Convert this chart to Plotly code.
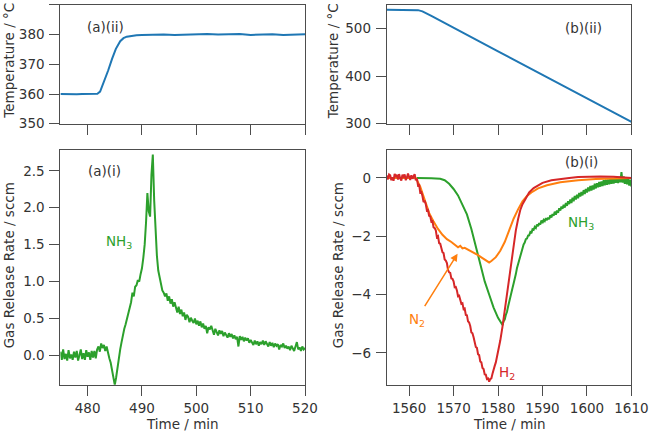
import numpy as np
import plotly.graph_objects as go

# ---------------- data ----------------
# (a)(ii) temperature
a_temp_t = [475, 476, 477, 478, 479, 480, 481, 481.8, 482.3, 483, 483.8, 484.5, 485.2, 486, 486.6,
            487.2, 488, 489, 490, 492, 494, 496, 498, 500, 502, 504, 506, 508, 510, 512, 514, 516, 518, 520]
a_temp_v = [360.0, 359.9, 359.8, 359.9, 360.0, 360.0, 360.0, 360.1, 360.8, 364.0, 368.0, 371.8, 375.2,
            377.8, 378.8, 379.3, 379.6, 379.8, 379.9, 380.0, 380.0, 379.9, 380.0, 380.0, 380.2, 380.0,
            380.1, 380.2, 379.9, 380.0, 380.1, 379.9, 380.0, 380.1]

# (a)(i) NH3 release rate, 475..520 min every 0.25 min
a_nh3_start, a_nh3_end = 475, 520
a_nh3_v = [
    0.05, -0.06, 0.08, -0.05, 0.02, -0.07, 0.07, -0.04,
    0.01, -0.06, 0.05, -0.03, 0.06, -0.07, 0.00, 0.08,
    -0.05, 0.03, -0.06, 0.07, -0.02, 0.04, -0.06, 0.06,
    -0.03, 0.06, -0.04, 0.08, 0.12, 0.05, 0.16, 0.10,
    0.14, 0.06, 0.12, 0.02, -0.04, -0.10, -0.20, -0.32,
    -0.40, -0.30, -0.15, -0.02, 0.08, 0.18, 0.28, 0.36,
    0.42, 0.50, 0.58, 0.66, 0.72, 0.85, 0.80, 0.93,
    0.95, 1.02, 1.00, 1.10, 1.18, 1.32, 1.50, 1.80,
    2.20, 1.95, 1.88, 2.45, 2.72, 2.10, 1.60, 1.35,
    1.15, 1.05, 0.95, 0.88, 0.85, 0.80, 0.84, 0.74,
    0.80, 0.70, 0.76, 0.66, 0.72, 0.64, 0.58, 0.66,
    0.56, 0.62, 0.53, 0.58, 0.48, 0.55, 0.52, 0.45,
    0.51, 0.47, 0.44, 0.50, 0.42, 0.47, 0.40, 0.46,
    0.38, 0.43, 0.36, 0.40, 0.30, 0.38, 0.35, 0.40,
    0.33, 0.28, 0.36, 0.31, 0.27, 0.34, 0.29, 0.33,
    0.26, 0.31, 0.27, 0.24, 0.30, 0.25, 0.29, 0.23,
    0.27, 0.22, 0.25, 0.12, 0.26, 0.21, 0.25, 0.19,
    0.24, 0.20, 0.23, 0.17, 0.21, 0.18, 0.14, 0.20,
    0.15, 0.19, 0.13, 0.18, 0.15, 0.20, 0.14, 0.19,
    0.16, 0.12, 0.18, 0.13, 0.17, 0.11, 0.16, 0.13,
    0.15, 0.08, 0.14, 0.12, 0.16, 0.10, 0.13, 0.09,
    0.12, 0.07, 0.13, 0.10, 0.06, 0.12, 0.18, 0.08,
    0.11, 0.06, 0.12, 0.08, 0.10,
]

# (b)(ii) temperature
b_temp_t = [1555, 1558, 1561, 1562, 1563, 1565, 1580, 1595, 1610]
b_temp_v = [540, 540, 540, 539, 536.5, 527, 452.4, 378.1, 304]

# (b)(i) H2: noisy part 1555..1579.75 every 0.25 min, then smooth points
b_h2_noisy_start, b_h2_noisy_end = 1555, 1579.75
b_h2_noisy_v = [
    0.08, -0.05, 0.12, 0.09, -0.08, 0.02, -0.10, 0.14,
    0.03, 0.11, -0.06, 0.13, -0.02, -0.09, 0.11, 0.05,
    0.12, -0.08, 0.01, 0.15, 0.04, -0.07, 0.09, -0.03,
    0.06, 0.13, -0.08, -0.02, -0.25, -0.22, -0.50, -0.48,
    -0.62, -0.83, -0.78, -0.90, -1.12, -1.10, -1.30, -1.32,
    -1.50, -1.48, -1.70, -1.72, -1.80, -2.03, -2.00, -2.24,
    -2.26, -2.45, -2.55, -2.58, -2.80, -2.84, -2.92, -3.16,
    -3.24, -3.26, -3.45, -3.46, -3.55, -3.75, -3.74, -3.86,
    -4.06, -4.04, -4.22, -4.32, -4.30, -4.50, -4.48, -4.70,
    -4.71, -4.92, -4.96, -5.08, -5.30, -5.33, -5.47, -5.68,
    -5.80, -5.83, -6.05, -6.08, -6.30, -6.33, -6.52, -6.56,
    -6.74, -6.75, -6.90, -6.88, -6.99, -6.90, -6.88, -6.72,
    -6.62, -6.45, -6.33, -6.15,
]
b_h2_smooth_t = [1580, 1580.5, 1581, 1581.5, 1582, 1582.5, 1583, 1583.5, 1584, 1584.5, 1585, 1585.5,
                 1586, 1587, 1588, 1589, 1590, 1592, 1594, 1596, 1598, 1600, 1603, 1606, 1608, 1610]
b_h2_smooth_v = [-6.0, -5.58, -5.1, -4.56, -4.0, -3.42, -2.85, -2.3, -1.8, -1.42, -1.1, -0.9,
                 -0.75, -0.5, -0.35, -0.25, -0.17, -0.08, -0.03, 0.0, 0.03, 0.04, 0.05, 0.04, 0.03, 0.0]

# (b)(i) N2
b_n2_t = [1555, 1561.5, 1562.5, 1563.5, 1564.5, 1565.5, 1566.5, 1567.5, 1568.5, 1569.5, 1570.5, 1571,
          1571.5, 1572, 1572.5, 1573.5, 1574.5, 1575.5, 1576.5, 1577.5, 1578, 1578.5, 1579.5, 1580.5,
          1581.5, 1582.5, 1583.5, 1584.5, 1585.5, 1586.5, 1587.5, 1589, 1591, 1594, 1598, 1602, 1606, 1610]
b_n2_v = [0, 0, -0.3, -0.75, -1.2, -1.5, -1.75, -1.95, -2.1, -2.2, -2.3, -2.38, -2.33, -2.42, -2.4,
          -2.48, -2.55, -2.65, -2.75, -2.85, -2.9, -2.85, -2.72, -2.5, -2.2, -1.8, -1.4, -1.08, -0.8,
          -0.62, -0.5, -0.36, -0.25, -0.15, -0.08, -0.04, -0.02, 0.0]

# (b)(i) NH3: smooth descent, then noisy recovery 1581..1610 every 0.25 min
b_nh3_smooth_t = [1561.75, 1563, 1565, 1567, 1568, 1569, 1570, 1571, 1572, 1573, 1574, 1575, 1576,
                  1577, 1578, 1579, 1580, 1580.5]
b_nh3_smooth_v = [0, 0, -0.01, -0.03, -0.08, -0.2, -0.38, -0.6, -0.9, -1.25, -1.75, -2.35, -3.0,
                  -3.55, -4.0, -4.45, -4.8, -4.95]
b_nh3_noisy_start, b_nh3_noisy_end = 1581, 1610
b_nh3_noisy_v = [
    -5.05, -4.92, -4.86, -4.70, -4.60, -4.42, -4.28, -4.10,
    -3.96, -3.78, -3.62, -3.48, -3.30, -3.10, -2.96, -2.78,
    -2.66, -2.50, -2.42, -2.28, -2.22, -2.10, -2.08, -1.98,
    -1.97, -1.86, -1.90, -1.76, -1.78, -1.68, -1.72, -1.60,
    -1.66, -1.55, -1.60, -1.46, -1.55, -1.44, -1.48, -1.38,
    -1.45, -1.36, -1.42, -1.28, -1.36, -1.24, -1.30, -1.16,
    -1.26, -1.12, -1.20, -1.04, -1.12, -0.98, -1.06, -0.92,
    -1.02, -0.86, -0.96, -0.80, -0.90, -0.74, -0.86, -0.68,
    -0.80, -0.62, -0.74, -0.58, -0.70, -0.52, -0.64, -0.48,
    -0.60, -0.42, -0.55, -0.38, -0.50, -0.33, -0.46, -0.28,
    -0.43, -0.26, -0.40, -0.20, -0.36, -0.18, -0.32, -0.14,
    -0.30, -0.12, -0.28, -0.08, -0.25, -0.06, -0.24, -0.05,
    -0.22, -0.02, -0.20, -0.05, -0.19, 0.00, -0.17, 0.03,
    -0.18, 0.04, -0.15, 0.20, -0.16, 0.05, -0.20, 0.01,
    -0.22, -0.03, -0.26, -0.06, -0.30,
]

# axis ticks
a_xticks = [480, 490, 500, 510, 520]
b_xticks = [1560, 1570, 1580, 1590, 1600, 1610]
a_temp_ticks = [350, 360, 370, 380, 390]
b_temp_ticks = [300, 400, 500]
a_rate_ticks = [0.0, 0.5, 1.0, 1.5, 2.0, 2.5]
b_rate_ticks = [-6, -4, -2, 0]

# ---------------- styling ----------------
BLUE, GREEN, ORANGE, RED = "#1f77b4", "#2ca02c", "#ff7f0e", "#d62728"
TXT = "#333333"
AX = "#4d4d4d"
FONT = "DejaVu Sans"
FS = 13.5
W, H = 666, 439

a_nh3_t = np.linspace(a_nh3_start, a_nh3_end, len(a_nh3_v))
b_h2_t = list(np.linspace(b_h2_noisy_start, b_h2_noisy_end, len(b_h2_noisy_v))) + b_h2_smooth_t
b_h2_v = b_h2_noisy_v + b_h2_smooth_v
b_nh3_t = b_nh3_smooth_t + list(np.linspace(b_nh3_noisy_start, b_nh3_noisy_end, len(b_nh3_noisy_v)))
b_nh3_v = b_nh3_smooth_v + b_nh3_noisy_v

fig = go.Figure()
lw = 2
fig.add_trace(go.Scatter(x=a_temp_t, y=a_temp_v, mode="lines", line=dict(color=BLUE, width=lw),
                         xaxis="x", yaxis="y", showlegend=False))
fig.add_trace(go.Scatter(x=b_temp_t, y=b_temp_v, mode="lines", line=dict(color=BLUE, width=lw),
                         xaxis="x2", yaxis="y2", showlegend=False))
fig.add_trace(go.Scatter(x=a_nh3_t, y=a_nh3_v, mode="lines", line=dict(color=GREEN, width=lw),
                         xaxis="x3", yaxis="y3", showlegend=False))
fig.add_trace(go.Scatter(x=b_nh3_t, y=b_nh3_v, mode="lines", line=dict(color=GREEN, width=lw),
                         xaxis="x4", yaxis="y4", showlegend=False))
fig.add_trace(go.Scatter(x=b_n2_t, y=b_n2_v, mode="lines", line=dict(color=ORANGE, width=lw),
                         xaxis="x4", yaxis="y4", showlegend=False))
fig.add_trace(go.Scatter(x=b_h2_t, y=b_h2_v, mode="lines", line=dict(color=RED, width=lw),
                         xaxis="x4", yaxis="y4", showlegend=False))

xl = [62 / W, 313 / W]
xr = [397 / W, 648 / W]
yt = [1 - 126 / H, 1 - 5 / H]
yb = [1 - 392 / H, 1 - 153 / H]

def axis(domain, rng, ticks, anchor, labels=True, fmt=None, standoff=0):
    d = dict(domain=domain, range=rng, tickvals=ticks, anchor=anchor, showline=True, mirror=True,
             linecolor=AX, linewidth=1.2, ticks="outside", ticklen=10, tickwidth=1.2, tickcolor=AX,
             showgrid=False, zeroline=False, showticklabels=labels, ticklabelstandoff=standoff,
             tickfont=dict(family=FONT, size=FS, color=TXT))
    if fmt:
        d["tickformat"] = fmt
    return d

fig.update_layout(
    width=W, height=H, margin=dict(l=0, r=0, t=0, b=0),
    paper_bgcolor="white", plot_bgcolor="white",
    xaxis=axis(xl, [475, 520], a_xticks, "y", labels=False),
    yaxis=axis(yt, [350, 390], a_temp_ticks, "x", standoff=2),
    xaxis2=axis(xr, [1555, 1610], b_xticks, "y2", labels=False),
    yaxis2=axis(yt, [300, 550], b_temp_ticks, "x2", standoff=2),
    xaxis3=axis(xl, [475, 520], a_xticks, "y3", standoff=1),
    yaxis3=axis(yb, [-0.40, 2.78], a_rate_ticks, "x3", fmt=".1f", standoff=2),
    xaxis4=axis(xr, [1555, 1610], b_xticks, "y4", standoff=1),
    yaxis4=axis(yb, [-7.1, 0.95], b_rate_ticks, "x4", standoff=2),
)

anns = []
def txt(x, y, s, color=TXT, angle=0, size=FS):
    anns.append(dict(x=x / W, y=1 - y / H, xref="paper", yref="paper", text=s, showarrow=False,
                     textangle=angle, font=dict(family=FONT, size=size, color=color),
                     xanchor="center", yanchor="middle"))

txt(9, 62, "Temperature / °C", angle=-90)
txt(9.5, 270, "Gas Release Rate / sccm", angle=-90)
txt(342, 62, "Temperature / °C", angle=-90)
txt(347, 270, "Gas Release Rate / sccm", angle=-90)
txt(187.5, 432, "Time / min")
txt(522.5, 432, "Time / min")
txt(108, 27, "(a)(ii)")
txt(599, 29, "(b)(ii)")
txt(107, 174, "(a)(i)")
txt(597, 165, "(b)(i)")
txt(122, 246, "NH<sub>3</sub>", color=GREEN)
txt(596, 227, "NH<sub>3</sub>", color=GREEN)
txt(428, 326, "N<sub>2</sub>", color=ORANGE)
txt(520, 380, "H<sub>2</sub>", color=RED)

anns.append(dict(x=1570.9, y=-2.60, xref="x4", yref="y4", ax=1563.3, ay=-4.45, axref="x4", ayref="y4",
                 text="", showarrow=True, arrowhead=2, arrowsize=1, arrowwidth=1.5, arrowcolor=ORANGE))
fig.update_layout(annotations=anns)

fig.write_html("out.html")
